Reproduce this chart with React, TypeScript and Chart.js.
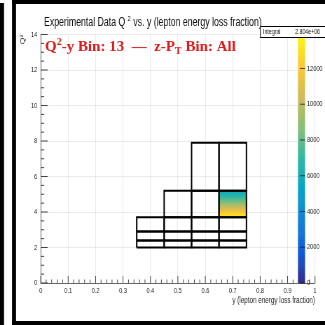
import React, { useEffect, useRef } from "react";
import { Chart, registerables } from "chart.js";

Chart.register(...registerables);

// The chart is laid out on a wider canvas and squeezed horizontally to 325px,
// which gives the narrow sans-serif lettering of the plot.
const CANVAS_W = 464;
const CANVAS_H = 325;
const SQUEEZE = 325 / CANVAS_W;
const px = (v: number) => v / SQUEEZE;

const SANS = "'Liberation Sans', Arial, Helvetica, sans-serif";
const SERIF = "'Liberation Serif', 'Times New Roman', serif";

// Texts
const TITLE_RUNS = [
  { t: "Experimental Data Q " },
  { t: "2", size: 8, shift: -5 },
  { t: " vs. y (lepton energy loss fraction)" },
];
const LABEL_RUNS = [
  { t: "Q" },
  { t: "2", size: 10, shift: -6 },
  { t: "-y Bin: 13  \u2014  z-P" },
  { t: "T", size: 10, shift: 3 },
  { t: " Bin: All" },
];
const X_TITLE = "y (lepton energy loss fraction)";
const Y_TITLE = "Q\u00b2";
const STAT_NAME = "Integral";
const STAT_VALUE = "2.804e+06";

// Axis ranges
const xMin = 0, xMax = 1, xStep = 0.1;
const yMin = 0, yMax = 14, yStep = 2;
const zMin = 0, zMax = 13900;
const zTickValues = [0, 2000, 4000, 6000, 8000, 10000, 12000];

// Q²-y binning scheme: bin i spans [binYLo, binYHi] x [binQ2Lo, binQ2Hi]
const binYLo = [0.35, 0.45, 0.55, 0.65, 0.35, 0.45, 0.55, 0.65, 0.35, 0.45, 0.55, 0.65, 0.45, 0.55, 0.65, 0.55, 0.65];
const binYHi = [0.45, 0.55, 0.65, 0.75, 0.45, 0.55, 0.65, 0.75, 0.45, 0.55, 0.65, 0.75, 0.55, 0.65, 0.75, 0.65, 0.75];
const binQ2Lo = [2.0, 2.0, 2.0, 2.0, 2.4, 2.4, 2.4, 2.4, 2.9, 2.9, 2.9, 2.9, 3.7, 3.7, 3.7, 5.2, 5.2];
const binQ2Hi = [2.4, 2.4, 2.4, 2.4, 2.9, 2.9, 2.9, 2.9, 3.7, 3.7, 3.7, 3.7, 5.2, 5.2, 5.2, 7.9, 7.9];

// Filled histogram cells inside the selected bin
const cellYLo = 0.65;
const cellYHi = 0.75;
const cellQ2Lo = [3.7, 3.8, 3.9, 4.0, 4.1, 4.2, 4.3, 4.4, 4.5, 4.6, 4.7, 4.8, 4.9, 5.0, 5.1];
const cellQ2Hi = [3.8, 3.9, 4.0, 4.1, 4.2, 4.3, 4.4, 4.5, 4.6, 4.7, 4.8, 4.9, 5.0, 5.1, 5.2];
const cellCounts = [13500, 12900, 12300, 11700, 11100, 10500, 9900, 9300, 8700, 8100, 7600, 7100, 6600, 6200, 5800];

// kBird colour palette
const birdStops = [0, 0.125, 0.25, 0.375, 0.5, 0.625, 0.75, 0.875, 1];
const birdR = [0.2082, 0.0592, 0.078, 0.0232, 0.1802, 0.5301, 0.8186, 0.9956, 0.9764];
const birdG = [0.1664, 0.3599, 0.5041, 0.6419, 0.7178, 0.7492, 0.7328, 0.7862, 0.9832];
const birdB = [0.5293, 0.8684, 0.8385, 0.7914, 0.6425, 0.4662, 0.3499, 0.1968, 0.0539];

function birdColor(f: number): string {
  const t = Math.max(0, Math.min(1, f));
  let i = 0;
  while (i < birdStops.length - 2 && t > birdStops[i + 1]) i++;
  const u = (t - birdStops[i]) / (birdStops[i + 1] - birdStops[i]);
  const c = (a: number[]) => Math.round(255 * (a[i] + (a[i + 1] - a[i]) * u));
  return `rgb(${c(birdR)},${c(birdG)},${c(birdB)})`;
}

type Run = { t: string; size?: number; shift?: number };
function drawRuns(ctx: CanvasRenderingContext2D, x: number, y: number, runs: Run[], font: (s: number) => string, base: number) {
  let cx = x;
  for (const r of runs) {
    ctx.font = font(r.size ?? base);
    ctx.fillText(r.t, cx, y + (r.shift ?? 0));
    cx += ctx.measureText(r.t).width;
  }
}

const fmtTick = (v: number | string) => String(Math.round(Number(v) * 10) / 10);

// Page frame around the canvas
const framePlugin = {
  id: "pageFrame",
  beforeDraw(chart: any) {
    const ctx = chart.ctx as CanvasRenderingContext2D;
    ctx.save();
    ctx.fillStyle = "#fff";
    ctx.fillRect(0, 0, CANVAS_W, CANVAS_H);
    ctx.fillStyle = "#000";
    ctx.fillRect(0, 3, px(4), CANVAS_H);
    ctx.fillRect(px(12), 0, px(4), CANVAS_H);
    ctx.fillRect(px(12), 0, CANVAS_W, 4);
    ctx.fillRect(px(12), 321, CANVAS_W, 4);
    ctx.restore();
  },
};

// Histogram cells coloured by count
const cellPlugin = {
  id: "histCells",
  beforeDatasetsDraw(chart: any) {
    const { ctx, scales } = chart;
    const x = scales.x, y = scales.y;
    ctx.save();
    const x0 = x.getPixelForValue(cellYLo);
    const x1 = x.getPixelForValue(cellYHi);
    cellCounts.forEach((v, i) => {
      const yTop = y.getPixelForValue(cellQ2Hi[i]);
      const yBot = y.getPixelForValue(cellQ2Lo[i]);
      ctx.fillStyle = birdColor((v - zMin) / (zMax - zMin));
      ctx.fillRect(x0, yTop - 0.5, x1 - x0, yBot - yTop + 1);
    });
    ctx.restore();
  },
};

// Inward tick marks, colour bar, title, label and stats box
const decorPlugin = {
  id: "decor",
  afterDraw(chart: any) {
    const ctx = chart.ctx as CanvasRenderingContext2D;
    const { x, y, z } = chart.scales;
    const area = chart.chartArea;
    ctx.save();

    // axis ticks pointing into the frame
    ctx.strokeStyle = "#444";
    ctx.lineWidth = 1;
    const xt = x.ticks.map((t: any) => t.value);
    ctx.beginPath();
    xt.forEach((v: number, i: number) => {
      const p = x.getPixelForValue(v);
      ctx.moveTo(p, area.bottom);
      ctx.lineTo(p, area.bottom - 7);
      if (i < xt.length - 1) {
        for (let k = 1; k < 5; k++) {
          const q = x.getPixelForValue(v + ((xt[i + 1] - v) * k) / 5);
          ctx.moveTo(q, area.bottom);
          ctx.lineTo(q, area.bottom - 3.5);
        }
      }
    });
    const yt = y.ticks.map((t: any) => t.value);
    yt.forEach((v: number, i: number) => {
      const p = y.getPixelForValue(v);
      ctx.moveTo(area.left, p);
      ctx.lineTo(area.left + px(7), p);
      if (i < yt.length - 1) {
        for (let k = 1; k < 4; k++) {
          const q = y.getPixelForValue(v + ((yt[i + 1] - v) * k) / 4);
          ctx.moveTo(area.left, q);
          ctx.lineTo(area.left + px(3.5), q);
        }
      }
    });
    ctx.stroke();

    // colour bar
    const bx0 = px(298), bx1 = px(305);
    const n = 128;
    for (let i = 0; i < n; i++) {
      const v0 = zMin + ((zMax - zMin) * i) / n;
      const v1 = zMin + ((zMax - zMin) * (i + 1)) / n;
      const p0 = z.getPixelForValue(v0);
      const p1 = z.getPixelForValue(v1);
      ctx.fillStyle = birdColor((i + 0.5) / n);
      ctx.fillRect(bx0, p1 - 0.3, bx1 - bx0, p0 - p1 + 0.6);
    }
    ctx.strokeStyle = "rgba(30,30,30,0.8)";
    ctx.beginPath();
    ctx.font = `8px ${SANS}`;
    ctx.fillStyle = "#222";
    ctx.textAlign = "left";
    ctx.textBaseline = "middle";
    zTickValues.forEach((v) => {
      const p = z.getPixelForValue(v);
      ctx.moveTo(bx1, p);
      ctx.lineTo(bx1 - px(5), p);
      ctx.fillText(String(v), px(307), p);
    });
    ctx.stroke();

    // title
    ctx.fillStyle = "#111";
    ctx.textBaseline = "alphabetic";
    drawRuns(ctx, px(44), 26, TITLE_RUNS, (s) => `${s}px ${SANS}`, 12.5);

    // stats box
    const sx = px(260), sy = 26, sw = CANVAS_W - px(260) + 4, sh = 11;
    ctx.fillStyle = "#fff";
    ctx.fillRect(sx, sy, sw, sh);
    ctx.strokeStyle = "#000";
    ctx.lineWidth = 1;
    ctx.strokeRect(sx + 0.5, sy + 0.5, sw, sh);
    ctx.fillStyle = "#111";
    ctx.font = `7.5px ${SANS}`;
    ctx.textBaseline = "middle";
    ctx.textAlign = "left";
    ctx.fillText(STAT_NAME, px(263), sy + sh / 2 + 0.5);
    ctx.textAlign = "right";
    ctx.fillText(STAT_VALUE, px(320), sy + sh / 2 + 0.5);

    // selection label, drawn at its natural width
    ctx.textAlign = "left";
    ctx.textBaseline = "alphabetic";
    ctx.fillStyle = "#e01b1b";
    ctx.translate(px(45), 51);
    ctx.scale(1 / SQUEEZE, 1);
    drawRuns(ctx, 0, 0, LABEL_RUNS, (s) => `bold ${s}px ${SERIF}`, 15);

    ctx.restore();
  },
};

const PAD_LEFT = 23;
const PAD_RIGHT = CANVAS_W - px(315);
const PAD_TOP = 34.5;
const X_AXIS_H = 30;
const PAD_BOTTOM = CANVAS_H - 283 - X_AXIS_H;

function buildDatasets() {
  return binYLo.map((_, i) => ({
    data: [
      { x: binYLo[i], y: binQ2Lo[i] },
      { x: binYHi[i], y: binQ2Lo[i] },
      { x: binYHi[i], y: binQ2Hi[i] },
      { x: binYLo[i], y: binQ2Hi[i] },
      { x: binYLo[i], y: binQ2Lo[i] },
    ],
    showLine: true,
    borderColor: "#000",
    borderWidth: 2,
    pointRadius: 0,
    tension: 0,
    fill: false,
  }));
}

export default function App() {
  const ref = useRef<HTMLCanvasElement>(null);

  useEffect(() => {
    document.body.style.margin = "0";
    const chart = new Chart(ref.current as HTMLCanvasElement, {
      type: "scatter",
      data: { datasets: buildDatasets() as any },
      plugins: [framePlugin, cellPlugin, decorPlugin],
      options: {
        animation: false,
        responsive: false,
        maintainAspectRatio: false,
        layout: { padding: { left: PAD_LEFT, right: PAD_RIGHT, top: PAD_TOP, bottom: PAD_BOTTOM } },
        plugins: { legend: { display: false }, tooltip: { enabled: false }, title: { display: false } },
        scales: {
          x: {
            type: "linear",
            position: "bottom",
            min: xMin,
            max: xMax,
            ticks: { stepSize: xStep, font: { family: SANS, size: 8 }, color: "#222", padding: 3, maxRotation: 0, autoSkip: false, callback: fmtTick },
            grid: { color: "rgba(0,0,0,0.08)", drawTicks: false },
            border: { display: true, color: "#666", width: 1 },
            title: { display: true, text: X_TITLE, align: "end", font: { family: SANS, size: 9 }, color: "#222", padding: { top: 0, bottom: 7 } },
            afterFit: (s: any) => { s.height = X_AXIS_H; },
          },
          y: {
            type: "linear",
            position: "left",
            min: yMin,
            max: yMax,
            ticks: { stepSize: yStep, font: { family: SANS, size: 8 }, color: "#222", padding: 5, callback: fmtTick },
            grid: { color: "rgba(0,0,0,0.08)", drawTicks: false },
            border: { display: true, color: "#666", width: 1 },
            title: { display: true, text: Y_TITLE, align: "end", font: { family: SANS, size: 9 }, color: "#222", padding: { top: 4.5, bottom: 0 } },
            afterFit: (s: any) => { s.width = px(40.7) - PAD_LEFT; },
          },
          z: {
            type: "linear",
            position: "right",
            display: false,
            min: zMin,
            max: zMax,
          },
        },
      } as any,
    });
    return () => chart.destroy();
  }, []);

  return (
    <div style={{ position: "fixed", left: 0, top: 0, width: 325, height: 325, overflow: "hidden", background: "#fff" }}>
      <div style={{ width: CANVAS_W, height: CANVAS_H, transform: `scaleX(${SQUEEZE})`, transformOrigin: "0 0" }}>
        <canvas ref={ref} width={CANVAS_W} height={CANVAS_H} style={{ width: CANVAS_W, height: CANVAS_H, display: "block" }} />
      </div>
    </div>
  );
}
